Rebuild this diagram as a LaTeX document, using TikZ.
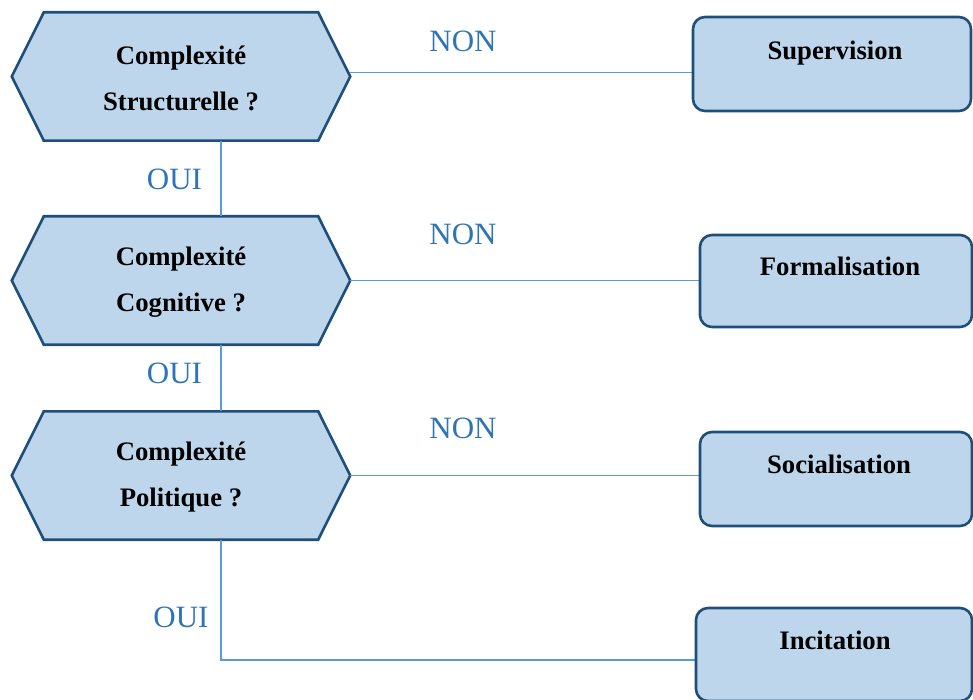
\documentclass[tikz,border=0pt]{standalone}
\usepackage{fontspec}
\setmainfont{Liberation Serif}
\usetikzlibrary{backgrounds}
\definecolor{shapefill}{RGB}{190,214,236}
\definecolor{shapeline}{RGB}{31,78,121}
\definecolor{connline}{RGB}{91,155,213}
\definecolor{labelblue}{RGB}{46,117,182}
\tikzset{
  hexnode/.style={minimum width=338pt, minimum height=128pt, inner sep=0pt,
    align=center, font=\bfseries\fontsize{26.7}{46}\selectfont},
  hextext/.style={inner sep=0pt, align=center, font=\bfseries\fontsize{26.7}{46}\selectfont},
  hexshape/.style={fill=shapefill, draw=shapeline, line width=2.6pt, line join=miter},
  outbox/.style={draw=shapeline, fill=shapefill, line width=2.6pt,
    rounded corners=12pt, inner sep=0pt},
  boxtext/.style={font=\bfseries\fontsize{26.7}{32}\selectfont, anchor=base, inner sep=0pt},
  conn/.style={draw=connline, line width=1.4pt},
  lbl/.style={text=labelblue, font=\fontsize{31}{36}\selectfont, anchor=base, inner sep=0pt}
}
\newcommand{\hexback}[1]{%
  \path[hexshape] (#1.west) -- ([xshift=32pt]#1.north west) -- ([xshift=-32pt]#1.north east)
    -- (#1.east) -- ([xshift=-32pt]#1.south east) -- ([xshift=32pt]#1.south west) -- cycle;}
\begin{document}
\begin{tikzpicture}[x=1pt,y=-1pt]
\useasboundingbox (0,0) rectangle (973,700);
% decision hexagons
\node[hexnode] (h1) at (181,76.5) {};
\node[hexnode] (h2) at (181,280.5) {};
\node[hexnode] (h3) at (181,475.5) {};
\begin{scope}[on background layer]
  \hexback{h1}\hexback{h2}\hexback{h3}
\end{scope}
\node[hextext] (ht1) at ([yshift=-2pt]h1.center) {Complexité\\Structurelle ?};
\node[hextext] (ht2) at ([yshift=-2pt]h2.center) {Complexité\\Cognitive ?};
\node[hextext] (ht3) at ([yshift=-2pt]h3.center) {Complexité\\Politique ?};
% outcome boxes
\node[outbox, minimum width=278pt, minimum height=94pt] (b1) at (832,64) {};
\node[outbox, minimum width=272pt, minimum height=92pt] (b2) at (836,281) {};
\node[outbox, minimum width=272pt, minimum height=94pt] (b3) at (836,479) {};
\node[outbox, minimum width=276pt, minimum height=93pt] (b4) at (834,654.5) {};
\node[boxtext] (t1) at ([xshift=3pt,yshift=-44pt]b1.north) {Supervision};
\node[boxtext] (t2) at ([xshift=4pt,yshift=-42pt]b2.north) {Formalisation};
\node[boxtext] (t3) at ([xshift=3pt,yshift=-43pt]b3.north) {Socialisation};
\node[boxtext] (t4) at ([xshift=1pt,yshift=-43pt]b4.north) {Incitation};
% connectors
\begin{scope}[on background layer]
\draw[conn] ([yshift=4pt]h1.east) -- ([yshift=4pt]h1.east -| b1.west);
\draw[conn] (h2.east) -- (h2.east -| b2.west);
\draw[conn] (h3.east) -- (h3.east -| b3.west);
\draw[conn] ([xshift=40pt]h1.south) -- ([xshift=40pt]h2.north);
\draw[conn] ([xshift=40pt]h2.south) -- ([xshift=40pt]h3.north);
\draw[conn] ([xshift=40pt]h3.south) |- ([yshift=-5.5pt]b4.west);
\end{scope}
% labels
\node[lbl] (n1) at (463,52) {NON};
\node[lbl] (n2) at (463,245) {NON};
\node[lbl] (n3) at (463,438) {NON};
\node[lbl] (o1) at (174.5,190) {OUI};
\node[lbl] (o2) at (174.5,383) {OUI};
\node[lbl] (o3) at (181,627) {OUI};
\end{tikzpicture}
\end{document}
